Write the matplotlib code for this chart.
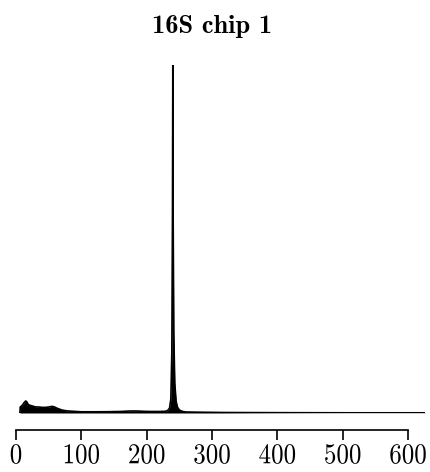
import matplotlib
matplotlib.use("Agg")
import matplotlib.pyplot as plt
from matplotlib.patheffects import AbstractPathEffect
from matplotlib.transforms import Affine2D

# Electropherogram trace: fragment size vs. fluorescence
size_bp = [6, 6.5, 8, 10, 12, 13.5, 15, 16.5, 18, 20, 22, 25, 28, 31, 35, 40,
           45, 50, 53, 56, 59, 62, 66, 70, 75, 80, 90, 100, 120, 140, 160,
           175, 185, 195, 205, 220, 228, 232, 235, 237, 238.5, 239.5, 240,
           240.5, 241.5, 243, 245, 247, 250, 255, 260, 280, 320, 400, 500, 626]
fluorescence = [0, 15, 17, 20, 25, 28, 30, 28, 23, 20, 19, 17.5, 16, 15, 15,
                14, 14, 15, 16, 16.5, 15, 12.5, 10, 7.5, 6, 5, 4, 3, 3, 3.2,
                3.8, 5, 5, 4.2, 3.8, 3.8, 4.2, 6, 12, 35, 150, 500, 870,
                500, 200, 75, 30, 15, 7.5, 3.8, 2.5, 2, 1.2, 0.8, 0.5, 0.5]

tick_values = [0, 100, 200, 300, 400, 500, 600]
title_text = "16S chip 1"


class VerticalStretch(AbstractPathEffect):
    """Draw text glyphs stretched vertically about their centre."""

    def __init__(self, factor):
        super().__init__()
        self.factor = factor

    def draw_path(self, renderer, gc, tpath, affine, rgbFace=None):
        ext = tpath.get_extents(affine)
        cy = 0.5 * (ext.y0 + ext.y1)
        aff = affine + Affine2D().translate(0, -cy).scale(1, self.factor).translate(0, cy)
        renderer.draw_path(gc, tpath, aff, rgbFace)


fig = plt.figure(figsize=(4.30, 4.72), dpi=100)
ax = fig.add_axes([16 / 430, 59 / 472, 409 / 430, 348 / 472])

ax.fill_between(size_bp, 0, fluorescence, color="black", linewidth=0)
ax.plot(size_bp, fluorescence, color="black", linewidth=1.2,
        solid_joinstyle="round")
ax.plot([size_bp[0], size_bp[-1]], [0, 0], color="black", linewidth=1.8)

ax.set_xlim(0, 626)
ax.set_ylim(0, max(fluorescence))

for side in ("left", "right", "top"):
    ax.spines[side].set_visible(False)
ax.spines["bottom"].set_position(("outward", 12))
ax.spines["bottom"].set_bounds(tick_values[0], tick_values[-1])
ax.spines["bottom"].set_linewidth(1.2)
ax.set_yticks([])
ax.set_xticks(tick_values)
labels = ax.set_xticklabels([str(v) for v in tick_values], family="cmr10",
                            fontsize=18)
for lab in labels:
    lab.set_path_effects([VerticalStretch(1.15)])
ax.tick_params(axis="x", direction="out", length=7, width=1.2, pad=4)

fig.text(212 / 430, 1 - 27 / 472, title_text, family="cmb10", fontsize=19,
         ha="center", va="center")

fig.savefig("out.png", dpi=100)
